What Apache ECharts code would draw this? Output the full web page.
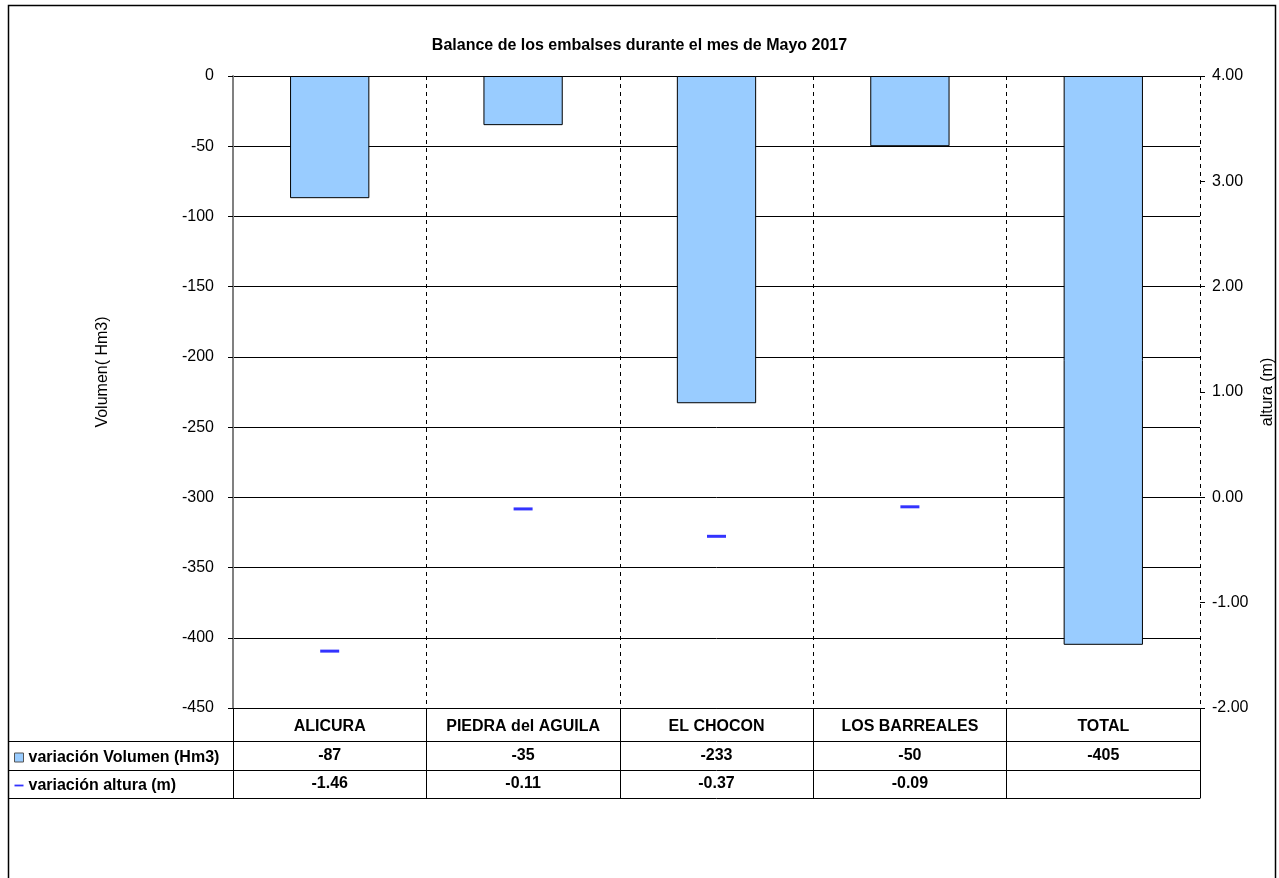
<!DOCTYPE html>
<html>
<head>
<meta charset="utf-8">
<title>Balance de los embalses</title>
<script src="https://cdn.jsdelivr.net/npm/echarts@6/dist/echarts.min.js"></script>
<style>
  html, body { margin: 0; padding: 0; background: #fff; }
  #chart { width: 1279px; height: 878px; }
</style>
</head>
<body>
<div id="chart"></div>
<script>
// reservoirs (categories) and monthly changes
const embalses = ["ALICURA", "PIEDRA del AGUILA", "EL CHOCON", "LOS BARREALES", "TOTAL"]
const variacionVolumen = [-87, -35, -233, -50, -405]
const variacionAltura = [-1.46, -0.11, -0.37, -0.09]

const FONT = "'Liberation Sans', Arial, sans-serif"
const BAR_COLOR = "#99ccff"
const ALTURA_COLOR = "#0000ff"

const chart = echarts.init(document.getElementById("chart"))

// table rows under the plot are extra category axes sharing the grid
const tableAxis = (labels, offset, margin) => ({
  type: "category",
  data: labels,
  position: "bottom",
  offset: offset,
  axisLine: { onZero: false, lineStyle: { color: "#000", width: 1 } },
  axisTick: { show: false },
  splitLine: { show: false },
  axisLabel: {
    show: labels.length > 0,
    interval: 0,
    margin: margin,
    fontFamily: FONT,
    fontSize: 16,
    fontWeight: "bold",
    color: "#000",
  },
})

const option = {
  animation: false,
  backgroundColor: "#fff",
  textStyle: { fontFamily: FONT },
  title: {
    text: "Balance de los embalses durante el mes de Mayo 2017",
    left: "center",
    top: 33,
    textStyle: { fontFamily: FONT, fontSize: 16, fontWeight: "bold", color: "#000" },
  },
  legend: {
    orient: "vertical",
    left: 9,
    top: 744,
    itemWidth: 9,
    itemHeight: 9,
    itemGap: 11,
    selectedMode: false,
    textStyle: { fontFamily: FONT, fontSize: 16, fontWeight: "bold", color: "#000", lineHeight: 17 },
    data: [
      { name: "variación Volumen (Hm3)", icon: "rect", itemStyle: { color: BAR_COLOR, borderColor: "#555", borderWidth: 1 } },
      { name: "variación altura (m)", icon: "path://M0,0M10,10M0,4L10,4L10,6L0,6Z", itemStyle: { color: ALTURA_COLOR } },
    ],
  },
  grid: { left: 233, right: 79, top: 76, bottom: 170, outerBoundsMode: "none", containLabel: false },
  xAxis: [
    {
      type: "category",
      data: embalses,
      position: "bottom",
      axisLine: { onZero: false, lineStyle: { color: "#000", width: 1 } },
      axisTick: { show: true, length: 90, lineStyle: { color: "#000" } },
      splitLine: { show: true, interval: 0, lineStyle: { color: "#000", type: [4, 4], width: 1 } },
      axisLabel: { interval: 0, margin: 11, fontFamily: FONT, fontSize: 16, fontWeight: "bold", color: "#000" },
    },
    tableAxis(variacionVolumen.map(String), 33, 7),
    tableAxis(embalses.map((_, i) => (i < variacionAltura.length ? variacionAltura[i].toFixed(2) : "")), 62, 6),
    tableAxis([], 90, 0),
  ],
  yAxis: [
    {
      type: "value",
      min: -450,
      max: 0,
      interval: 50,
      name: "Volumen( Hm3)",
      nameLocation: "middle",
      nameRotate: 90,
      nameGap: 122,
      nameTextStyle: { fontFamily: FONT, fontSize: 16, color: "#000", padding: [0, 0, 0, 40] },
      axisLine: { show: true, lineStyle: { color: "#808080", width: 2 } },
      axisTick: { show: true, length: 5, lineStyle: { color: "#000" } },
      splitLine: { show: true, lineStyle: { color: "#000", width: 1 } },
      axisLabel: { margin: 19, fontFamily: FONT, fontSize: 16, color: "#000" },
    },
    {
      type: "value",
      min: -2,
      max: 4,
      interval: 1,
      position: "right",
      name: "altura (m)",
      nameLocation: "middle",
      nameRotate: 90,
      nameGap: 59,
      nameTextStyle: { fontFamily: FONT, fontSize: 16, color: "#000" },
      axisLine: { show: false },
      axisTick: { show: true, length: 5, lineStyle: { color: "#000" } },
      splitLine: { show: false },
      axisLabel: { margin: 12, fontFamily: FONT, fontSize: 16, color: "#000", formatter: (v) => v.toFixed(2) },
    },
  ],
  series: [
    {
      name: "variación Volumen (Hm3)",
      type: "bar",
      xAxisIndex: 0,
      yAxisIndex: 0,
      data: variacionVolumen,
      barWidth: "41%",
      itemStyle: { color: BAR_COLOR, borderColor: "#000", borderWidth: 1 },
    },
    {
      name: "variación altura (m)",
      type: "scatter",
      xAxisIndex: 0,
      yAxisIndex: 1,
      data: variacionAltura,
      symbol: "rect",
      symbolSize: [19, 3],
      itemStyle: { color: ALTURA_COLOR },
    },
  ],
  graphic: [
    // outer chart frame
    { type: "rect", shape: { x: 8.5, y: 5.5, width: 1267, height: 900 }, style: { fill: "none", stroke: "#000", lineWidth: 1.5 }, silent: true },
    // left column of the data table
    { type: "line", shape: { x1: 8, y1: 741.5, x2: 233, y2: 741.5 }, style: { stroke: "#000", lineWidth: 1 }, silent: true },
    { type: "line", shape: { x1: 8, y1: 770.5, x2: 233, y2: 770.5 }, style: { stroke: "#000", lineWidth: 1 }, silent: true },
    { type: "line", shape: { x1: 8, y1: 798.5, x2: 233, y2: 798.5 }, style: { stroke: "#000", lineWidth: 1 }, silent: true },
  ],
}

chart.setOption(option)
</script>
</body>
</html>
